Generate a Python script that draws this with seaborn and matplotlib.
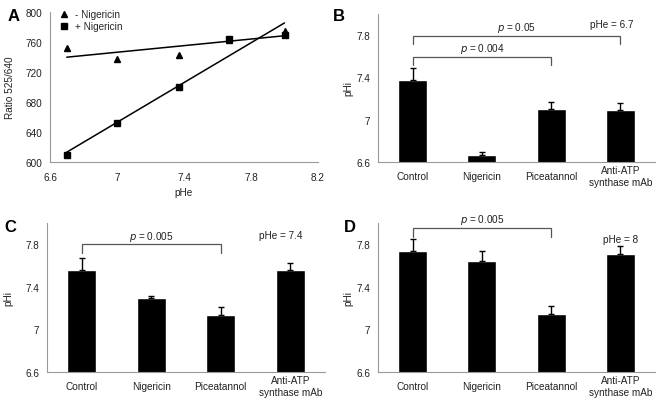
import numpy as np
import pandas as pd
import matplotlib
matplotlib.use("Agg")
import matplotlib.pyplot as plt
from matplotlib.ticker import MultipleLocator, FixedLocator, NullFormatter
import seaborn as sns

sns.set_theme(style="white")
plt.rcParams['font.family'] = ['Liberation Sans', 'DejaVu Sans']

# ---------------- data ----------------
phe = [6.7, 7.0, 7.37, 7.67, 8.0]
ratio_minus_nig = [752, 737, 743, 763, 775]
ratio_plus_nig = [609, 652, 700, 764, 770]

groups = ["Control", "Nigericin", "Piceatannol", "Anti-ATP\nsynthase mAb"]
phi_B = [7.38, 6.67, 7.10, 7.09]
err_B = [0.11, 0.025, 0.07, 0.065]
phi_C = [7.56, 7.295, 7.137, 7.557]
err_C = [0.115, 0.02, 0.072, 0.07]
phi_D = [7.74, 7.644, 7.149, 7.707]
err_D = [0.105, 0.094, 0.075, 0.08]

W, H = 661, 402
fig = plt.figure(figsize=(W / 100, H / 100), dpi=100)

def axes_px(l, r, t, b):
    return fig.add_axes([l / W, 1 - b / H, (r - l) / W, (b - t) / H])

TXT = '#222222'
SP = '#9a9a9a'
FS = 7.2

def style_axes(ax):
    for s in ['top', 'right']:
        ax.spines[s].set_visible(False)
    for s in ['left', 'bottom']:
        ax.spines[s].set_color(SP)
        ax.spines[s].set_linewidth(0.8)
    ax.tick_params(which='both', direction='out', color=SP, width=0.8,
                   labelsize=FS, labelcolor=TXT, length=3)
    ax.tick_params(axis='y', which='major', pad=2.5)

# ---------------- panel A ----------------
axA = axes_px(50, 318, 13, 163)
dfA = pd.DataFrame({"pHe": phe, "minus": ratio_minus_nig, "plus": ratio_plus_nig})
sns.regplot(data=dfA, x="pHe", y="minus", ax=axA, ci=None, scatter=False,
            truncate=True, line_kws=dict(color='black', lw=1.1))
sns.regplot(data=dfA, x="pHe", y="plus", ax=axA, ci=None, scatter=False,
            truncate=True, line_kws=dict(color='black', lw=1.1))
axA.plot(dfA["pHe"], dfA["minus"], ls='none', marker='^', ms=4.2, color='black',
         label='- Nigericin')
axA.plot(dfA["pHe"], dfA["plus"], ls='none', marker='s', ms=5, color='black',
         label='+ Nigericin')
axA.set_xlim(6.6, 8.2)
axA.set_ylim(600, 800)
axA.xaxis.set_major_locator(FixedLocator([6.6, 7.0, 7.4, 7.8, 8.2]))
axA.set_xticklabels(['6.6', '7', '7.4', '7.8', '8.2'])
axA.xaxis.set_minor_locator(MultipleLocator(0.2))
axA.yaxis.set_major_locator(MultipleLocator(40))
axA.yaxis.set_minor_locator(MultipleLocator(20))
style_axes(axA)
axA.tick_params(axis='x', which='major', pad=4.5)
axA.set_xlabel("pHe", fontsize=FS, color=TXT, labelpad=3)
axA.set_ylabel("Ratio 525/640", fontsize=FS, color=TXT)
axA.yaxis.set_label_coords(-0.13, 0.5)
axA.legend(loc='upper left', bbox_to_anchor=(0.01, 1.06), frameon=False,
           fontsize=FS, handlelength=1.0, handletextpad=0.6, labelspacing=0.25,
           borderaxespad=0.2)
fig.text(8 / W, 1 - 21 / H, "A", fontsize=12, fontweight='bold', color='black')

# ---------------- bar panels ----------------
def bar_panel(ax, vals, errs, lab_x):
    df = pd.DataFrame({"group": groups, "pHi": vals})
    sns.barplot(data=df, x="group", y="pHi", ax=ax, color='black',
                width=0.42, errorbar=None, saturation=1, bottom=0)
    ax.errorbar(np.arange(len(vals)), vals,
                yerr=[np.zeros(len(errs)), errs], fmt='none',
                ecolor='black', elinewidth=1.0, capsize=2.5, capthick=1.0)
    ax.set_ylim(6.6, 8.0)
    ax.set_xlim(-0.5, 3.5)
    ax.yaxis.set_major_locator(FixedLocator([6.6, 7.0, 7.4, 7.8]))
    ax.set_yticklabels(['6.6', '7', '7.4', '7.8'])
    ax.yaxis.set_minor_locator(MultipleLocator(0.2))
    ax.xaxis.set_minor_locator(FixedLocator([-0.5, 0.5, 1.5, 2.5, 3.5]))
    ax.xaxis.set_minor_formatter(NullFormatter())
    style_axes(ax)
    ax.tick_params(axis='x', which='major', length=0, pad=10)
    ax.set_xlabel("")
    ax.set_ylabel("pHi", fontsize=FS, color=TXT)
    ax.yaxis.set_label_coords(lab_x, 0.5)
    for lab in ax.get_xticklabels():
        lab.set_linespacing(1.2)
        lab.set_verticalalignment('center')

def bracket(ax, x0, x1, ytop, ydrop, text, ty):
    ax.plot([x0, x0, x1, x1], [ydrop, ytop, ytop, ydrop], color='#555555',
            lw=0.9, clip_on=False, solid_joinstyle='miter')
    ax.text((x0 + x1) / 2, ty, r"$\it{p}$ = " + text, ha='center', va='center',
            fontsize=FS, color=TXT, clip_on=False)

# B
axB = axes_px(378, 655, 15, 163)
bar_panel(axB, phi_B, err_B, -0.09)
bracket(axB, 0, 3, 7.79, 7.72, "0.05", 7.875)
bracket(axB, 0, 2, 7.59, 7.52, "0.004", 7.68)
axB.text(2.87, 7.91, "pHe = 6.7", ha='center', va='center', fontsize=FS, color=TXT)
fig.text(333 / W, 1 - 21 / H, "B", fontsize=12, fontweight='bold', color='black')

# C
axC = axes_px(47, 325, 224, 373)
bar_panel(axC, phi_C, err_C, -0.12)
bracket(axC, 0, 2, 7.80, 7.715, "0.005", 7.88)
axC.text(2.86, 7.89, "pHe = 7.4", ha='center', va='center', fontsize=FS, color=TXT)
fig.text(4 / W, 1 - 232 / H, "C", fontsize=12, fontweight='bold', color='black')

# D
axD = axes_px(378, 655, 224, 373)
bar_panel(axD, phi_D, err_D, -0.09)
bracket(axD, 0, 2, 7.95, 7.866, "0.005", 8.04)
axD.text(3.0, 7.85, "pHe = 8", ha='center', va='center', fontsize=FS, color=TXT)
fig.text(344 / W, 1 - 232 / H, "D", fontsize=12, fontweight='bold', color='black')

fig.savefig("out.png", dpi=100)
